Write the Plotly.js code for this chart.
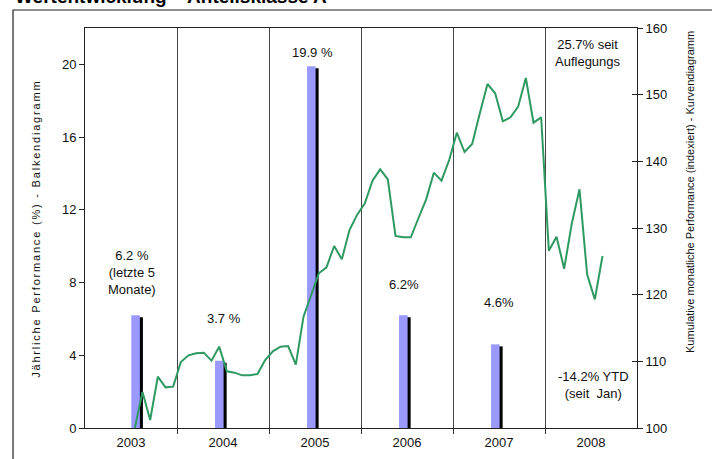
<!DOCTYPE html>
<html>
<head>
<meta charset="utf-8">
<script src="https://cdn.plot.ly/plotly-3.0.1.min.js"></script>
<style>html,body{margin:0;padding:0;background:#fff;}#chart{width:712px;height:459px;}</style>
</head>
<body>
<div id="chart"></div>
<script>
// ---- data ----
const yearLabels = ['2003', '2004', '2005', '2006', '2007', '2008'];
const barX = [2003.55, 2004.46, 2005.46, 2006.46, 2007.46];   // decimal years
const barValues = [6.2, 3.7, 19.9, 6.2, 4.6];                 // % p.a.
const barLabels = ['6.2 %<br>(letzte 5<br>Monate)', '3.7 %', '19.9 %', '6.2%', '4.6%'];
const lineMonths = [
  '2003-07','2003-08','2003-09','2003-10','2003-11','2003-12',
  '2004-01','2004-02','2004-03','2004-04','2004-05','2004-06','2004-07','2004-08','2004-09','2004-10','2004-11','2004-12',
  '2005-01','2005-02','2005-03','2005-04','2005-05','2005-06','2005-07','2005-08','2005-09','2005-10','2005-11','2005-12',
  '2006-01','2006-02','2006-03','2006-04','2006-05','2006-06','2006-07','2006-08','2006-09','2006-10','2006-11','2006-12',
  '2007-01','2007-02','2007-03','2007-04','2007-05','2007-06','2007-07','2007-08','2007-09','2007-10','2007-11','2007-12',
  '2008-01','2008-02','2008-03','2008-04','2008-05','2008-06','2008-07','2008-08'
];
const lineValues = [
  100.0, 105.4, 101.2, 107.7, 106.1, 106.2,
  109.9, 110.9, 111.2, 111.3, 110.1, 112.2, 108.5, 108.3, 107.9, 107.9, 108.1, 110.2,
  111.5, 112.2, 112.3, 109.5, 116.7, 120.1, 123.2, 124.1, 127.3, 125.3, 129.7, 132.0,
  133.7, 137.1, 138.8, 137.3, 128.8, 128.6, 128.6, 131.5, 134.3, 138.3, 137.1, 140.2,
  144.3, 141.4, 142.6, 147.2, 151.6, 150.2, 146.0, 146.6, 148.2, 152.5, 145.8, 146.6,
  126.6, 128.7, 123.9, 130.7, 135.8, 123.0, 119.3, 125.8
];
const totalLabel = '25.7% seit<br>Auflegungs';
const ytdLabel = '-14.2% YTD<br>(seit  Jan)';
const chartTitle = 'Wertentwicklung – Anteilsklasse A';
const leftTitle = 'Jährliche Performance (%) - Balkendiagramm';
const rightTitle = 'Kumulative monatliche Performance (indexiert) - Kurvendiagramm';

// ---- derived ----
const lineX = lineMonths.map(m => { const [y, mo] = m.split('-').map(Number); return y + (mo - 0.5) / 12; });
const yearStart = Number(yearLabels[0]);
const tickPos = yearLabels.map(y => Number(y) + 0.5);
const sepPos = yearLabels.slice(1).map(Number);

const FONT = '"Liberation Sans", Arial, sans-serif';
const barW = 0.093;
const shadowDx = 0.033, shadowDy = 0.11;

const traces = [
  { type: 'bar', x: barX.map(v => v + shadowDx), y: barValues.map(v => v - shadowDy), width: barW,
    marker: { color: '#000000', line: { width: 0 } }, hoverinfo: 'skip', showlegend: false },
  { type: 'bar', x: barX, y: barValues, width: barW,
    marker: { color: '#9999FF', line: { width: 0 } }, showlegend: false },
  { type: 'scatter', mode: 'lines', x: lineX, y: lineValues, yaxis: 'y2',
    line: { color: '#2E9A62', width: 2 }, showlegend: false, cliponaxis: false },
  { type: 'scatter', mode: 'markers', x: [lineX[0]], y: [lineValues[0]], yaxis: 'y3',
    marker: { opacity: 0 }, hoverinfo: 'skip', showlegend: false }
];

const annFont = { family: FONT, size: 13, color: '#111' };
const annotations = [
  { x: 2003.511, y: 8.58, text: barLabels[0] },
  { x: 2004.511, y: 6.05, text: barLabels[1] },
  { x: 2005.478, y: 20.68, text: barLabels[2] },
  { x: 2006.467, y: 7.92, text: barLabels[3] },
  { x: 2007.50, y: 6.93, text: barLabels[4] },
  { x: 2008.467, y: 20.65, text: totalLabel },
  { x: 2008.522, y: 2.37, text: ytdLabel }
].map(a => Object.assign({ xref: 'x', yref: 'y', showarrow: false, xanchor: 'center', yanchor: 'middle', font: annFont }, a));

annotations.push({
  xref: 'paper', yref: 'paper', x: -0.1304, y: 1.0465, xanchor: 'left', yanchor: 'bottom',
  showarrow: false, text: '<b>' + chartTitle + '</b>',
  font: { family: FONT, size: 19, color: '#000' }
});
annotations.push({
  xref: 'paper', yref: 'paper', x: -0.0888, y: 0.5, xanchor: 'center', yanchor: 'middle',
  showarrow: false, textangle: -90, text: leftTitle,
  font: { family: FONT, size: 11, color: '#111' }
});
annotations.push({
  xref: 'paper', yref: 'paper', x: 1.096, y: 0.59, xanchor: 'center', yanchor: 'middle',
  showarrow: false, textangle: -90, text: rightTitle,
  font: { family: FONT, size: 11, color: '#111' }
});

const layout = {
  width: 712, height: 459,
  margin: { l: 85, r: 75, t: 28, b: 31, pad: 0 },
  paper_bgcolor: '#fff', plot_bgcolor: '#fff',
  barmode: 'overlay',
  showlegend: false,
  font: { family: FONT, size: 13, color: '#111' },
  xaxis: {
    type: 'linear', range: [yearStart, yearStart + yearLabels.length], fixedrange: true,
    tickmode: 'array', tickvals: tickPos, ticktext: yearLabels, ticks: '',
    ticklabelstandoff: 2,
    showgrid: false, zeroline: false,
    showline: true, linecolor: '#222', linewidth: 1, mirror: true,
    tickfont: { family: FONT, size: 13, color: '#111' },
    minor: { tickmode: 'array', tickvals: sepPos, ticks: 'outside', ticklen: 5, tickcolor: '#333', tickwidth: 1,
             showgrid: true, gridcolor: '#444', gridwidth: 1 }
  },
  yaxis: {
    range: [0, 22], tickmode: 'array', tickvals: [0, 4, 8, 12, 16, 20], fixedrange: true,
    ticks: 'outside', ticklen: 5, tickcolor: '#222', tickwidth: 1,
    showgrid: false, zeroline: false, showline: true, linecolor: '#222', linewidth: 1,
    tickfont: { family: FONT, size: 13, color: '#111' }
  },
  yaxis2: {
    overlaying: 'y', side: 'right', range: [100, 160], dtick: 10, tick0: 100, fixedrange: true,
    ticks: 'outside', ticklen: 5, tickcolor: '#222', tickwidth: 1,
    showgrid: false, zeroline: false, showline: true, linecolor: '#222', linewidth: 1,
    tickfont: { family: FONT, size: 13, color: '#111' }
  },
  yaxis3: {
    overlaying: 'y', side: 'right', range: [100, 160], dtick: 10, tick0: 100, fixedrange: true,
    ticks: 'inside', ticklen: 5, tickcolor: '#222', tickwidth: 1,
    showticklabels: false, showgrid: false, zeroline: false, showline: false
  },
  annotations: annotations,
  shapes: [
    { type: 'rect', xref: 'paper', yref: 'paper', x0: -0.1304, x1: 1.3, y0: -0.3, y1: 1.045,
      line: { color: '#222', width: 1.2 }, fillcolor: 'rgba(0,0,0,0)', layer: 'above' }
  ]
};

Plotly.newPlot('chart', traces, layout, { staticPlot: true, displayModeBar: false }).then(gd => {
  gd.querySelectorAll('.annotation-text').forEach(t => {
    if (t.textContent === leftTitle) t.style.letterSpacing = '1.8px';
  });
});
</script>
</body>
</html>
